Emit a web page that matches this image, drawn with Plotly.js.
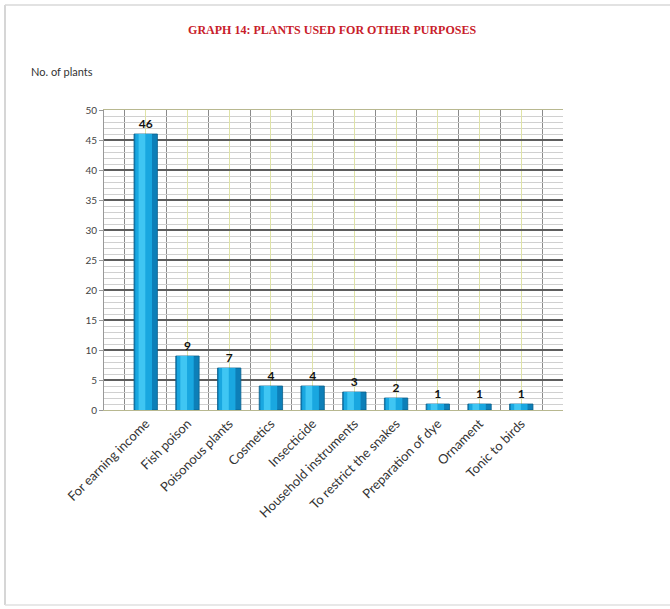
<!DOCTYPE html>
<html>
<head>
<meta charset="utf-8">
<script src="https://cdn.plot.ly/plotly-3.0.1.min.js"></script>
<style>html,body{margin:0;padding:0;background:#fff;}#chart{width:670px;height:609px;}</style>
</head>
<body>
<div id="chart"></div>
<script>
const categories = ["For earning income", "Fish poison", "Poisonous plants", "Cosmetics", "Insecticide", "Household instruments", "To restrict the snakes", "Preparation of dye", "Ornament", "Tonic to birds"];
const plantCounts = [46, 9, 7, 4, 4, 3, 2, 1, 1, 1];
const yTickStep = 5;

const idx = categories.map((c, i) => i);

const base = {
  type: 'bar', x: idx, y: plantCounts, width: 0.56,
  marker: {color: '#0d7fb8', line: {color: '#0a5f8c', width: 0.8}},
  text: plantCounts.map(String), textposition: 'outside', cliponaxis: false,
  textfont: {family: 'Lato, "Liberation Sans", sans-serif', size: 12, color: '#111', weight: 'bold'},
  hoverinfo: 'x+y', showlegend: false
};
const mid = {
  type: 'bar', x: idx, y: plantCounts, width: 0.40, offset: -0.25,
  marker: {color: '#19a7e0', line: {width: 0}}, hoverinfo: 'skip', showlegend: false
};
const hi = {
  type: 'bar', x: idx, y: plantCounts, width: 0.16, offset: -0.17,
  marker: {color: '#3fc6f3', line: {width: 0}}, hoverinfo: 'skip', showlegend: false
};

const T = 110, B = 199, H = 609 - T - B, W = 670 - 104 - 107;

const layout = {
  width: 670, height: 609,
  paper_bgcolor: '#fff', plot_bgcolor: '#fff',
  margin: {l: 104, r: 107, t: T, b: B},
  barmode: 'overlay',
  title: {
    text: 'GRAPH 14: PLANTS USED FOR OTHER PURPOSES',
    font: {family: '"Liberation Serif", "DejaVu Serif", serif', size: 12, color: '#c8202a', weight: 'bold'},
    x: 0.497, xanchor: 'center', y: 1 - 30/609, yanchor: 'middle', xref: 'paper'
  },
  xaxis: {
    range: [-1, 10], tickvals: idx, ticktext: categories, tickangle: -45,
    tickfont: {family: 'Lato, "Liberation Sans", sans-serif', size: 13, color: '#333'},
    showgrid: true, gridcolor: '#dfe3a6', gridwidth: 1,
    minor: {tick0: 0.5, dtick: 1, showgrid: true, gridcolor: '#8a8a8a', gridwidth: 1},
    showline: true, linecolor: '#b8b890', linewidth: 1, mirror: true,
    zeroline: false, ticks: '', fixedrange: true
  },
  yaxis: {
    range: [0, 50], tick0: 0, dtick: yTickStep,
    tickfont: {family: 'Lato, "Liberation Sans", sans-serif', size: 10, color: '#444'},
    showgrid: true, gridcolor: '#5e5e5e', gridwidth: 1.5,
    minor: {dtick: 1, showgrid: true, gridcolor: '#d0d0d0', gridwidth: 1},
    showline: true, linecolor: '#999', linewidth: 1,
    ticks: 'outside', ticklen: 4, tickcolor: '#999',
    zeroline: true, zerolinecolor: '#888', zerolinewidth: 1, fixedrange: true
  },
  annotations: [{
    text: 'No. of plants', xref: 'paper', yref: 'paper',
    x: -75/W, y: 1 + (T - 72)/H, xanchor: 'left', yanchor: 'middle', showarrow: false,
    font: {family: 'Lato, "Liberation Sans", sans-serif', size: 11, color: '#333'}
  }],
  shapes: [
    {type: 'line', xref: 'paper', yref: 'paper', x0: -99/W, x1: -99/W, y0: 1 + (T - 5)/H, y1: -(B - 4)/H, line: {color: '#c8c8c8', width: 1.5}},
    {type: 'line', xref: 'paper', yref: 'paper', x0: -99/W, x1: 1 + 107/W, y0: 1 + (T - 5)/H, y1: 1 + (T - 5)/H, line: {color: '#d8d8d8', width: 1.5}},
    {type: 'line', xref: 'paper', yref: 'paper', x0: -99/W, x1: 1 + 107/W, y0: -(B - 4)/H, y1: -(B - 4)/H, line: {color: '#e0e0e0', width: 1.5}}
  ]
};

Plotly.newPlot('chart', [base, mid, hi], layout, {displayModeBar: false, staticPlot: true});
</script>
</body>
</html>
